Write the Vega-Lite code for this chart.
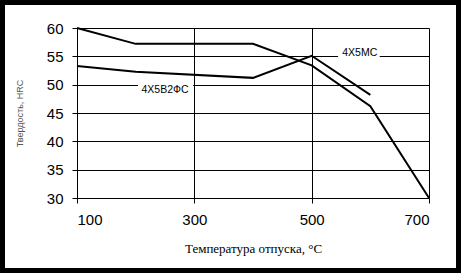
{
  "$schema": "https://vega.github.io/schema/vega-lite/v6.json",
  "autosize": "none",
  "width": 352,
  "height": 170,
  "padding": {"left": 77, "top": 28, "right": 32, "bottom": 75},
  "background": "white",
  "config": {
    "view": {"stroke": null},
    "font": "Liberation Sans",
    "axis": {
      "grid": true, "gridColor": "black", "gridOpacity": 1, "gridWidth": 1,
      "domain": false, "ticks": true, "tickSize": 5, "tickColor": "black",
      "labelFont": "Liberation Sans", "labelFontSize": 15, "labelColor": "black",
      "titleFontWeight": "normal"
    },
    "axisX": {
      "labelPadding": 9, "titleFont": "Liberation Serif", "titleFontSize": 13,
      "titleColor": "black", "titlePadding": 15
    },
    "axisY": {
      "labelPadding": 9, "titleFont": "Liberation Sans", "titleFontSize": 9,
      "titleColor": "#555555", "titlePadding": 22
    }
  },
  "datasets": {
    "curves": [
      {"steel": "4Х5В2ФС", "t": 100, "hrc": 60},
      {"steel": "4Х5В2ФС", "t": 200, "hrc": 57.2},
      {"steel": "4Х5В2ФС", "t": 400, "hrc": 57.2},
      {"steel": "4Х5В2ФС", "t": 500, "hrc": 53.4},
      {"steel": "4Х5В2ФС", "t": 600, "hrc": 46.2},
      {"steel": "4Х5В2ФС", "t": 700, "hrc": 30},
      {"steel": "4Х5МС", "t": 100, "hrc": 53.3},
      {"steel": "4Х5МС", "t": 200, "hrc": 52.3},
      {"steel": "4Х5МС", "t": 400, "hrc": 51.2},
      {"steel": "4Х5МС", "t": 500, "hrc": 55.1},
      {"steel": "4Х5МС", "t": 600, "hrc": 48.2}
    ],
    "labels": [
      {"label": "4Х5МС", "t": 582, "hrc": 55.6, "t0": 545, "t1": 616, "h0": 54.6, "h1": 56.4},
      {"label": "4Х5В2ФС", "t": 250, "hrc": 49.0, "t0": 204, "t1": 298, "h0": 49.3, "h1": 50.6}
    ]
  },
  "layer": [
    {
      "data": {"name": "labels"},
      "mark": {"type": "rect", "fill": "white", "stroke": null},
      "encoding": {
        "x": {"field": "t0", "type": "quantitative",
          "scale": {"domain": [100, 700], "nice": false, "zero": false},
          "axis": {"values": [100, 300, 500, 700], "title": "Температура отпуска, °С"}},
        "x2": {"field": "t1"},
        "y": {"field": "h0", "type": "quantitative",
          "scale": {"domain": [30, 60], "nice": false, "zero": false},
          "axis": {"values": [30, 35, 40, 45, 50, 55, 60], "title": "Твердость, HRC"}},
        "y2": {"field": "h1"}
      }
    },
    {
      "data": {"name": "curves"},
      "mark": {"type": "line", "color": "black", "strokeWidth": 2},
      "encoding": {
        "x": {"field": "t", "type": "quantitative",
          "scale": {"domain": [100, 700], "nice": false, "zero": false},
          "axis": {"values": [100, 300, 500, 700], "title": "Температура отпуска, °С"}},
        "y": {"field": "hrc", "type": "quantitative",
          "scale": {"domain": [30, 60], "nice": false, "zero": false},
          "axis": {"values": [30, 35, 40, 45, 50, 55, 60], "title": "Твердость, HRC"}},
        "detail": {"field": "steel"}
      }
    },
    {
      "data": {"name": "labels"},
      "mark": {"type": "text", "font": "Liberation Sans", "fontSize": 10.5, "color": "black", "align": "center", "baseline": "middle"},
      "encoding": {
        "x": {"field": "t", "type": "quantitative",
          "axis": {"values": [100, 300, 500, 700], "title": "Температура отпуска, °С"}},
        "y": {"field": "hrc", "type": "quantitative",
          "axis": {"values": [30, 35, 40, 45, 50, 55, 60], "title": "Твердость, HRC"}},
        "text": {"field": "label"}
      }
    },
    {
      "data": {"values": [{}]},
      "mark": {"type": "rect", "fill": null, "stroke": "black", "strokeWidth": 5, "clip": false},
      "encoding": {
        "x": {"value": -74.5},
        "x2": {"value": 381.5},
        "y": {"value": -25.5},
        "y2": {"value": 242.5}
      }
    }
  ]
}
